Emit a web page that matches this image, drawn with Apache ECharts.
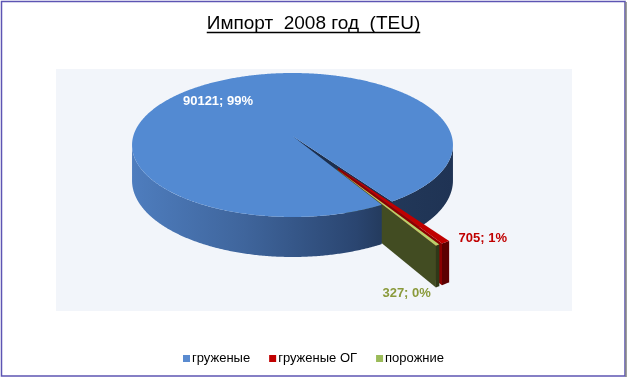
<!DOCTYPE html>
<html><head><meta charset="utf-8">
<script src="https://cdn.jsdelivr.net/npm/echarts@6/dist/echarts.min.js"></script>
<style>html,body{margin:0;padding:0;background:#fff}#c{width:627px;height:378px}</style>
</head><body><div id="c"></div>
<script>
// ---- data ----
const titleText = 'Импорт  2008 год  (TEU)';
const categories = ['груженые', 'груженые ОГ', 'порожние'];
const values = [90121, 705, 327];

// ---- styling / geometry config (not data) ----
const FONT = '"Liberation Sans", Arial, sans-serif';
const startAngle = 150;            // degrees clockwise from 12 o'clock
const explode = [0, 0.5, 0.5];     // fraction of radius
const legendColors = ['#5a8bd0', '#c00000', '#9bbb59'];
const topColors = ['#538ad2', '#c00000', '#b8d06c'];
const radialColors = ['#1c2f4e', '#8b0000', '#424c22'];
const outerColors = [null, '#5c0000', '#2f3818'];
const labelColors = ['#ffffff', '#c00000', '#8a9a3b'];
const zBase = [0, 10, 20];
const labelCfg = [
  {r: 0.72, dx: -18, dy: 6, align: 'center'},
  {r: 'rim', dx: 13, dy: -4, align: 'left'},
  {r: 'rim', dx: -31, dy: 48, align: 'center'}
];
const CX = 292.5, CY = 145, RX = 159.2, RY = 72, A = -0.125, H = 35;

const total = values.reduce((a, b) => a + b, 0);
const starts = [];
(function(){ let acc = startAngle; values.forEach(v => { starts.push(acc); acc += v / total * 360; }); })();

function proj(u, v, drop) {
  const w = 1 + A * v;
  return [CX + RX * u / w, CY + RY * (v + A) / w + (drop ? H / w : 0)];
}
const rad = d => d * Math.PI / 180;
function arc(s, e, ou, ov, drop) {
  const n = Math.max(2, Math.ceil((e - s) / 0.5));
  const pts = [];
  for (let k = 0; k <= n; k++) {
    const p = rad(s + (e - s) * k / n);
    pts.push(proj(ou + Math.sin(p), ov - Math.cos(p), drop));
  }
  return pts;
}
const blueWall = {
  type: 'linear', x: 132, y: 0, x2: 453, y2: 0, global: true,
  colorStops: [
    {offset: 0, color: '#4e7dbe'}, {offset: 0.35, color: '#3f659c'},
    {offset: 0.7, color: '#2a4570'}, {offset: 0.8, color: '#223859'},
    {offset: 1, color: '#1f3354'}
  ]
};

function makeRender(i) {
  return function (params, api) {
    const val = api.value(0);
    const s = starts[i], e = s + val / total * 360, m = (s + e) / 2;
    const ex = explode[i];
    const ou = ex * Math.sin(rad(m)), ov = -ex * Math.cos(rad(m));
    const z = i === 0 ? 1 : zBase[i];
    const children = [];
    const c0 = proj(ou, ov, false), c1 = proj(ou, ov, true);
    function radial(phi) {
      const p = rad(phi);
      const u = ou + Math.sin(p), v = ov - Math.cos(p);
      children.push({type: 'polygon', z2: z,
        shape: {points: [c0, proj(u, v, false), proj(u, v, true), c1]},
        style: {fill: radialColors[i]}});
    }
    if (Math.sin(rad(s)) < 0) radial(s);
    if (Math.sin(rad(e)) > 0) radial(e);
    for (let k = -1; k <= 2; k++) {
      const a = Math.max(s, 97.2 + 360 * k), b = Math.min(e, 262.8 + 360 * k);
      if (a < b) {
        const top = arc(a, b, ou, ov, false), bot = arc(a, b, ou, ov, true).reverse();
        // the front segment that begins at the slice start sits in front of exploded neighbours
        const zz = (i === 0 && a === s) ? 50 : z + 1;
        children.push({type: 'polygon', z2: zz,
          shape: {points: top.concat(bot)},
          style: {fill: i === 0 ? blueWall : outerColors[i]}});
      }
    }
    children.push({type: 'polygon', z2: i === 0 ? 100 : z + 2,
      shape: {points: [c0].concat(arc(s, e, ou, ov, false))},
      style: {fill: topColors[i]}});
    // label
    const lc = labelCfg[i];
    let anchor;
    if (lc.r === 'rim') {
      anchor = proj(ou + Math.sin(rad(m)), ov - Math.cos(rad(m)), false);
    } else {
      anchor = proj(ou + lc.r * Math.sin(rad(m)), ov - lc.r * Math.cos(rad(m)), false);
    }
    children.push({type: 'text', z2: 300, x: anchor[0] + lc.dx, y: anchor[1] + lc.dy,
      style: {text: val + '; ' + Math.round(val / total * 100) + '%',
        fill: labelColors[i], fontSize: 13, fontWeight: 'bold', fontFamily: FONT,
        align: lc.align, verticalAlign: 'middle'}});
    return {type: 'group', children: children};
  };
}

// measure title for underline
const mc = document.createElement('canvas').getContext('2d');
mc.font = '19px ' + FONT;
const tw = mc.measureText(titleText).width;

const chart = echarts.init(document.getElementById('c'), null, {renderer: 'canvas'});
chart.setOption({
  animation: false,
  backgroundColor: '#ffffff',
  title: {text: titleText, left: 'center', top: 14, padding: 0,
    textStyle: {fontSize: 19, fontWeight: 'normal', fontFamily: FONT, color: '#000'}},
  legend: {top: 352, left: 'center', padding: 0, icon: 'rect', itemWidth: 7, itemHeight: 7, itemGap: 19,
    textStyle: {fontSize: 13, fontFamily: FONT, color: '#000', padding: [0, 0, 0, -3]}, data: categories},
  graphic: [
    {type: 'rect', z: -10, silent: true, shape: {x: 56, y: 69, width: 516, height: 242}, style: {fill: '#f2f5fa'}},
    {type: 'rect', z: -10, silent: true, shape: {x: 1.5, y: 1.5, width: 623.5, height: 374.5}, style: {fill: null, stroke: '#5d55b3', lineWidth: 1.5}},
    {type: 'line', z: -10, silent: true, shape: {x1: 626, y1: 2, x2: 626, y2: 377}, style: {stroke: '#808080', lineWidth: 1.5}},
    {type: 'line', z: 10, silent: true, shape: {x1: 313.5 - tw / 2, y1: 32.5, x2: 313.5 + tw / 2, y2: 32.5}, style: {stroke: '#000', lineWidth: 1.3}}
  ],
  series: categories.map((name, i) => ({
    type: 'custom', name: name, coordinateSystem: 'none',
    itemStyle: {color: legendColors[i]},
    data: [[values[i]]],
    renderItem: makeRender(i)
  }))
});
</script></body></html>
